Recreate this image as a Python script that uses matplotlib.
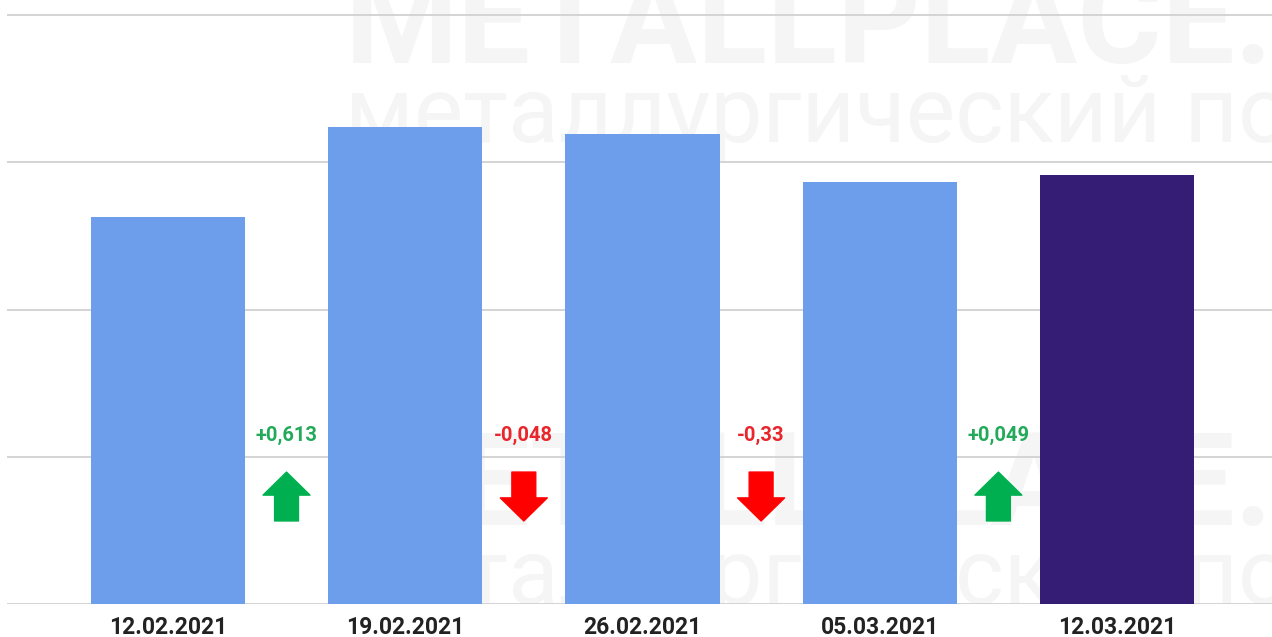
import matplotlib
matplotlib.use("Agg")
import matplotlib.pyplot as plt

# weekly values and their change labels
dates = ["12.02.2021", "19.02.2021", "26.02.2021", "05.03.2021", "12.03.2021"]
values = [2.628, 3.241, 3.193, 2.863, 2.912]
changes = ["+0,613", "-0,048", "-0,33", "+0,049"]
change_up = [True, False, False, True]
bar_colors = ["#6d9eeb", "#6d9eeb", "#6d9eeb", "#6d9eeb", "#351c75"]

plt.rcParams["font.family"] = ["Roboto", "DejaVu Sans"]

fig = plt.figure(figsize=(12.72, 6.37), dpi=100)
ax = fig.add_axes([7 / 1272, 33 / 637, 1 - 7 / 1272, 1 - 33 / 637])

# faint watermark behind the bars and grid
wm_color = "#f5f5f5"
for dy in (0, 462):
    ax.text(345 / 1272, 1 - (63 + dy) / 637, "METALLPLACE.RU", fontsize=93,
            fontweight="bold", color=wm_color, va="baseline", ha="left",
            transform=fig.transFigure, zorder=0.2, clip_on=True)
    ax.text(345 / 1272, 1 - (142 + dy) / 637, "металлургический портал", fontsize=67,
            color=wm_color, va="baseline", ha="left",
            transform=fig.transFigure, zorder=0.2, clip_on=True)

x = list(range(len(dates)))
ax.bar(x, values, width=0.65, color=bar_colors, zorder=3)

ax.set_xlim(-0.678, 4.653)
ax.set_ylim(0, 4.102)
ax.set_yticks([0, 1, 2, 3, 4])
ax.yaxis.grid(True, color="#d4d4d4", linewidth=1.4)
ax.set_axisbelow(True)
ax.tick_params(axis="y", left=False, labelleft=False)
ax.set_xticks(x)
ax.set_xticklabels(dates, fontsize=16.5, fontweight="bold", color="#222222")
ax.tick_params(axis="x", length=0, pad=9)
for s in ax.spines.values():
    s.set_visible(False)

# change labels with arrows between bars
for i, (lab, up) in enumerate(zip(changes, change_up)):
    xm = i + 0.5
    txt_col = "#22a95a" if up else "#e8262b"
    arr_col = "#00b050" if up else "#ff0000"
    ax.text(xm, 1.148, lab, ha="center", va="center", fontsize=14.5,
            fontweight="bold", color=txt_col, zorder=4)
    lo, hi = 0.564, 0.896
    start, end = (lo, hi) if up else (hi, lo)
    ax.annotate("", xy=(xm, end), xytext=(xm, start),
                arrowprops=dict(arrowstyle="simple,head_length=0.83,head_width=1.69,tail_width=0.86",
                                color=arr_col, shrinkA=0, shrinkB=0, mutation_scale=20),
                zorder=4)

fig.savefig("out.png", dpi=100)
